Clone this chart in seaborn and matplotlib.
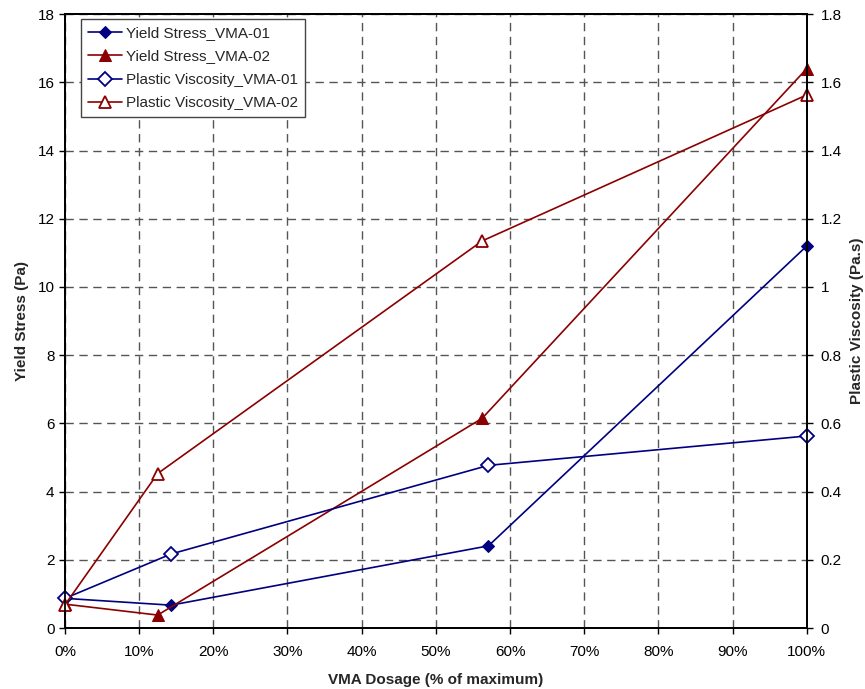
import matplotlib
matplotlib.use("Agg")
import matplotlib.pyplot as plt
import seaborn as sns
from matplotlib.ticker import FuncFormatter, MultipleLocator

# Data
dosage_01 = [0, 14.3, 57.1, 100]
dosage_02 = [0, 12.5, 56.25, 100]
yield_01 = [0.87, 0.67, 2.41, 11.2]
yield_02 = [0.70, 0.38, 6.15, 16.4]
visc_01 = [0.087, 0.217, 0.477, 0.563]
visc_02 = [0.068, 0.453, 1.135, 1.563]

NAVY = "#000080"
DARKRED = "#8b0000"

sns.set_theme(style="ticks")
plt.rcParams["font.family"] = ["Liberation Sans", "DejaVu Sans"]

fig = plt.figure(figsize=(8.65, 6.89), dpi=100)
ax = fig.add_axes([0.0751, 0.0885, 0.8575, 0.891])
ax2 = ax.twinx()

sns.lineplot(x=dosage_01, y=yield_01, ax=ax, color=NAVY, marker="D", markersize=6,
             markeredgecolor=NAVY, linewidth=1.2, label="Yield Stress_VMA-01",
             legend=False, clip_on=False)
sns.lineplot(x=dosage_02, y=yield_02, ax=ax, color=DARKRED, marker="^", markersize=8,
             markeredgecolor=DARKRED, linewidth=1.2, label="Yield Stress_VMA-02",
             legend=False, clip_on=False)
sns.lineplot(x=dosage_01, y=visc_01, ax=ax2, color=NAVY, marker="D", markersize=7,
             markerfacecolor="white", markeredgecolor=NAVY, markeredgewidth=1.3,
             linewidth=1.2, label="Plastic Viscosity_VMA-01", legend=False, clip_on=False)
sns.lineplot(x=dosage_02, y=visc_02, ax=ax2, color=DARKRED, marker="^", markersize=8,
             markerfacecolor="white", markeredgecolor=DARKRED, markeredgewidth=1.3,
             linewidth=1.2, label="Plastic Viscosity_VMA-02", legend=False, clip_on=False)

ax.set_xlim(0, 100)
ax.set_ylim(0, 18)
ax2.set_ylim(0, 1.8)
ax.xaxis.set_major_locator(MultipleLocator(10))
ax.yaxis.set_major_locator(MultipleLocator(2))
ax2.yaxis.set_major_locator(MultipleLocator(0.2))
ax.xaxis.set_major_formatter(FuncFormatter(lambda v, p: f"{v:.0f}%"))
ax2.yaxis.set_major_formatter(FuncFormatter(lambda v, p: f"{v:g}"))

ax.grid(True, color="#555555", linestyle=(0, (6, 4)), linewidth=1.0)
ax.set_axisbelow(True)

for a in (ax, ax2):
    for s in a.spines.values():
        s.set_visible(True)
        s.set_color("black")
        s.set_linewidth(1.3)
    a.tick_params(labelsize=11, colors="black", length=4, width=1, direction="out")
ax.tick_params(axis="x", pad=8)
ax2.tick_params(axis="y", pad=6)

ax.set_xlabel("VMA Dosage (% of maximum)", fontsize=11, fontweight="bold", labelpad=10)
ax.set_ylabel("Yield Stress (Pa)", fontsize=11, fontweight="bold", labelpad=6)
ax2.set_ylabel("Plastic Viscosity (Pa.s)", fontsize=11, fontweight="bold", labelpad=6)

h1, l1 = ax.get_legend_handles_labels()
h2, l2 = ax2.get_legend_handles_labels()
leg = ax2.legend(h1 + h2, l1 + l2, loc="upper left", bbox_to_anchor=(0.022, 0.992),
                 fontsize=11, frameon=True, fancybox=False, framealpha=1,
                 edgecolor="#444444", borderpad=0.45, labelspacing=0.62,
                 handlelength=2.2, handletextpad=0.3, borderaxespad=0)
leg.get_frame().set_linewidth(1.0)

fig.savefig("out.png", dpi=100)
